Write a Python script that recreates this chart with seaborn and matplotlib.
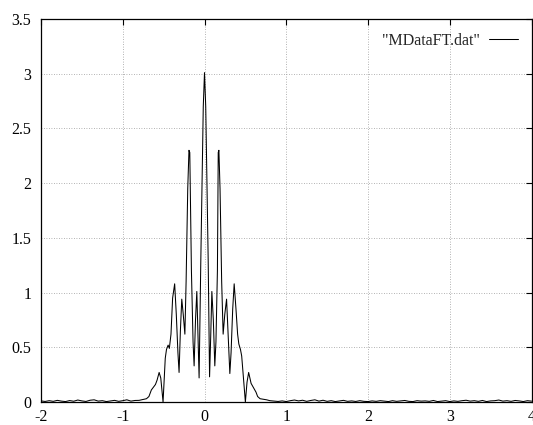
import numpy as np
import pandas as pd
import matplotlib
matplotlib.use("Agg")
import matplotlib.pyplot as plt
import seaborn as sns

# ---- data ----
left_base_x = [-2.0, -1.95, -1.9, -1.85, -1.8, -1.75, -1.7, -1.65, -1.6, -1.55, -1.5, -1.45,
               -1.4, -1.35, -1.3, -1.25, -1.2, -1.15, -1.1, -1.05, -1.0, -0.95, -0.9, -0.85]
left_base_y = [0.010, 0.005, 0.012, 0.006, 0.015, 0.008, 0.004, 0.013, 0.007, 0.018, 0.010, 0.005,
               0.016, 0.020, 0.008, 0.012, 0.004, 0.010, 0.015, 0.006, 0.012, 0.020, 0.008, 0.014]

center_x = [-0.80, -0.77, -0.74, -0.71, -0.68, -0.65, -0.62, -0.60, -0.58, -0.555, -0.535, -0.507,
            -0.48, -0.465, -0.445, -0.43, -0.41, -0.39, -0.365, -0.345, -0.325, -0.311, -0.295,
            -0.278, -0.26, -0.24, -0.225, -0.205, -0.19, -0.18, -0.16, -0.14, -0.127, -0.11,
            -0.094, -0.08, -0.066, -0.045, -0.03, -0.015, 0.0, 0.015, 0.03, 0.045, 0.062, 0.076,
            0.09, 0.108, 0.126, 0.14, 0.158, 0.168, 0.176, 0.19, 0.21, 0.228, 0.248, 0.27, 0.29,
            0.31, 0.325, 0.345, 0.363, 0.385, 0.405, 0.42, 0.44, 0.455, 0.50, 0.52, 0.54, 0.555,
            0.57, 0.60, 0.63, 0.65, 0.68, 0.72, 0.76]
center_y = [0.015, 0.020, 0.025, 0.030, 0.050, 0.110, 0.140, 0.160, 0.200, 0.270, 0.220, 0.000,
            0.400, 0.480, 0.520, 0.490, 0.620, 0.950, 1.080, 0.800, 0.450, 0.270, 0.650,
            0.940, 0.800, 0.620, 1.100, 1.950, 2.300, 2.280, 1.200, 0.550, 0.330, 0.750,
            1.010, 0.600, 0.220, 1.300, 2.000, 2.700, 3.010, 2.700, 2.000, 1.300, 0.230, 0.600,
            1.010, 0.750, 0.330, 0.550, 1.200, 2.280, 2.300, 1.950, 1.100, 0.620, 0.800, 0.940, 0.600,
            0.260, 0.450, 0.850, 1.080, 0.850, 0.620, 0.530, 0.480, 0.420, 0.000, 0.180, 0.270, 0.220,
            0.170, 0.130, 0.090, 0.050, 0.030, 0.025, 0.020]

right_base_x = [0.80, 0.85, 0.90, 0.95, 1.00, 1.05, 1.10, 1.15, 1.20, 1.25, 1.30, 1.35, 1.40,
                1.45, 1.50, 1.55, 1.60, 1.65, 1.70, 1.75, 1.80, 1.85, 1.90, 1.95, 2.00, 2.05,
                2.10, 2.15, 2.20, 2.25, 2.30, 2.35, 2.40, 2.45, 2.50, 2.55, 2.60, 2.65, 2.70,
                2.75, 2.80, 2.85, 2.90, 2.95, 3.00, 3.05, 3.10, 3.15, 3.20, 3.25, 3.30, 3.35,
                3.40, 3.45, 3.50, 3.55, 3.60, 3.65, 3.70, 3.75, 3.80, 3.85, 3.90, 3.95, 4.00]
right_base_y = [0.012, 0.008, 0.005, 0.010, 0.004, 0.012, 0.018, 0.010, 0.016, 0.006, 0.014, 0.020,
                0.008, 0.016, 0.006, 0.012, 0.004, 0.010, 0.015, 0.006, 0.010, 0.005, 0.012, 0.006,
                0.004, 0.010, 0.006, 0.012, 0.008, 0.004, 0.012, 0.006, 0.010, 0.014, 0.006, 0.004,
                0.012, 0.008, 0.010, 0.006, 0.014, 0.004, 0.008, 0.012, 0.004, 0.010, 0.006, 0.012,
                0.016, 0.008, 0.012, 0.006, 0.014, 0.004, 0.010, 0.012, 0.018, 0.008, 0.012, 0.006,
                0.014, 0.010, 0.004, 0.012, 0.008]

series_label = '"MDataFT.dat"'
x_ticks = [-2, -1, 0, 1, 2, 3, 4]
x_tick_labels = ["-2", "-1", "0", "1", "2", "3", "4"]
y_ticks = [0, 0.5, 1, 1.5, 2, 2.5, 3, 3.5]
y_tick_labels = ["0", "0.5", "1", "1.5", "2", "2.5", "3", "3.5"]

df = pd.DataFrame({
    "x": left_base_x + center_x + right_base_x,
    "y": left_base_y + center_y + right_base_y,
})

# ---- style ----
sns.set_theme(style="white")
plt.rcParams["font.family"] = ["Liberation Serif", "DejaVu Serif"]
plt.rcParams["axes.unicode_minus"] = False

fig = plt.figure(figsize=(5.33, 4.25), dpi=100)
ax = fig.add_axes([41 / 533, 23 / 425, (531.5 - 41) / 533, (402.5 - 19.5) / 425])

sns.lineplot(data=df, x="x", y="y", ax=ax, color="black", linewidth=0.75,
             estimator=None, sort=False, label=series_label)

ax.set_xlim(-2, 4)
ax.set_ylim(0, 3.5)
ax.set_xticks(x_ticks)
ax.set_xticklabels(x_tick_labels)
ax.set_yticks(y_ticks)
ax.set_yticklabels(y_tick_labels)
ax.set_xlabel("")
ax.set_ylabel("")

ax.grid(True, color="#9a9a9a", linestyle=(0, (1, 2)), linewidth=0.6)
for s in ax.spines.values():
    s.set_color("black")
    s.set_linewidth(0.9)

ax.tick_params(axis="both", which="major", direction="in", length=4, width=0.8,
               top=True, right=True, labelsize=11.5, colors="black")
ax.tick_params(axis="x", pad=5)
ax.tick_params(axis="y", pad=7)

leg = ax.legend(loc="upper right", frameon=False, markerfirst=False, fontsize=11.5,
                handlelength=1.8, borderaxespad=0.45, handletextpad=0.56,
                bbox_to_anchor=(1.0, 1.0))
for line in leg.get_lines():
    line.set_linewidth(0.75)

fig.savefig("out.png", dpi=100)
